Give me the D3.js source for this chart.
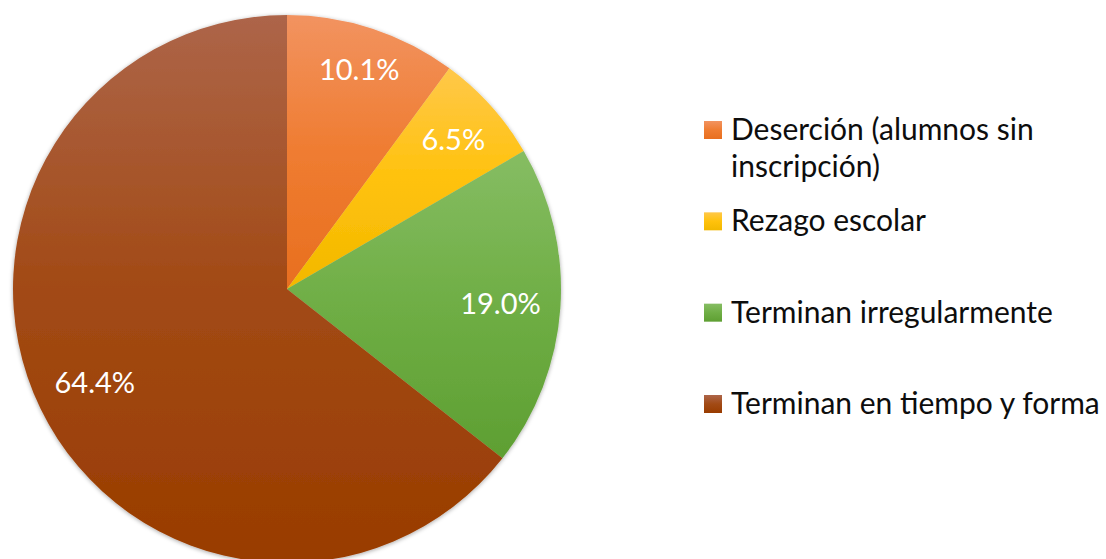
<!DOCTYPE html>
<html>
<head>
<meta charset="utf-8">
<script src="https://cdn.jsdelivr.net/npm/d3@7"></script>
<style>
  body { margin: 0; background: #fff; }
  svg { display: block; }
</style>
</head>
<body>
<svg width="1106" height="559"></svg>
<script>
// values
var categories = ["Deserción (alumnos sin inscripción)", "Rezago escolar", "Terminan irregularmente", "Terminan en tiempo y forma"];
var legendLines = [["Deserción (alumnos sin", "inscripción)"], ["Rezago escolar"], ["Terminan irregularmente"], ["Terminan en tiempo y forma"]];
var values = [10.1, 6.5, 19.0, 64.4];
var labels = ["10.1%", "6.5%", "19.0%", "64.4%"];
// gradient stops per slice: top, middle, bottom
var sliceColors = [
    ["#f29360", "#ef7c31", "#e86f1f"],
    ["#ffc84a", "#ffc20c", "#f2b800"],
    ["#86bd63", "#6fae45", "#5e9f32"],
    ["#ad6549", "#a24a15", "#993c00"]
];

var svg = d3.select("svg");
var width = 1106;
var height = 559;
var cx = 287, cy = 289, radius = 274;

var defs = svg.append("defs");

var shadow = defs.append("filter")
    .attr("id", "shadow")
    .attr("x", "-10%").attr("y", "-10%")
    .attr("width", "120%").attr("height", "120%");
shadow.append("feDropShadow")
    .attr("dx", 0).attr("dy", 1)
    .attr("stdDeviation", 2)
    .attr("flood-color", "#000")
    .attr("flood-opacity", 0.35);

sliceColors.forEach(function(c, i) {
    var g = defs.append("linearGradient")
        .attr("id", "grad" + i)
        .attr("x1", 0).attr("y1", 0).attr("x2", 0).attr("y2", 1);
    g.append("stop").attr("offset", "0%").attr("stop-color", c[0]);
    g.append("stop").attr("offset", "50%").attr("stop-color", c[1]);
    g.append("stop").attr("offset", "100%").attr("stop-color", c[2]);
});

var pie = d3.pie().sort(null).value(d => d);
var arcs = pie(values);
var arc = d3.arc().innerRadius(0).outerRadius(radius);

var chart = svg.append("g")
    .attr("transform", "translate(" + cx + "," + cy + ")");

chart.append("g")
    .attr("filter", "url(#shadow)")
    .selectAll("path")
    .data(arcs)
    .enter().append("path")
    .attr("d", arc)
    .attr("fill", (d, i) => "url(#grad" + i + ")");

// data labels, kept inside the slice near its edge
var labelFont = 29;
var labelText = chart.append("g")
    .selectAll("text")
    .data(arcs)
    .enter().append("text")
    .text((d, i) => labels[i])
    .attr("font-family", "Lato, 'Open Sans', sans-serif")
    .attr("font-size", labelFont)
    .attr("fill", "#fff")
    .attr("text-anchor", "middle")
    .attr("dy", "0.36em");

labelText.each(function(d) {
    var w = this.getComputedTextLength();
    var h = labelFont * 0.8;
    var a = (d.startAngle + d.endAngle) / 2;
    var ext = Math.abs(Math.sin(a)) * w / 2 + Math.abs(Math.cos(a)) * h / 2;
    var r = radius - 19 - ext;
    d3.select(this)
        .attr("x", Math.sin(a) * r)
        .attr("y", -Math.cos(a) * r);
});

// legend
var legendY = d3.scalePoint()
    .domain(categories)
    .range([140, 414]);

var legend = svg.append("g")
    .selectAll("g")
    .data(categories)
    .enter().append("g")
    .attr("transform", d => "translate(704," + legendY(d) + ")");

legend.append("rect")
    .attr("x", 0).attr("y", -19)
    .attr("width", 18).attr("height", 18)
    .attr("fill", (d, i) => "url(#grad" + i + ")");

legend.append("text")
    .attr("x", 27)
    .attr("font-family", "Lato, 'Open Sans', sans-serif")
    .attr("font-size", 30)
    .attr("fill", "#0d0d0d")
    .selectAll("tspan")
    .data((d, i) => legendLines[i])
    .enter().append("tspan")
    .attr("x", 27)
    .attr("dy", (d, j) => j === 0 ? 0 : 37)
    .text(d => d);
</script>
</body>
</html>
